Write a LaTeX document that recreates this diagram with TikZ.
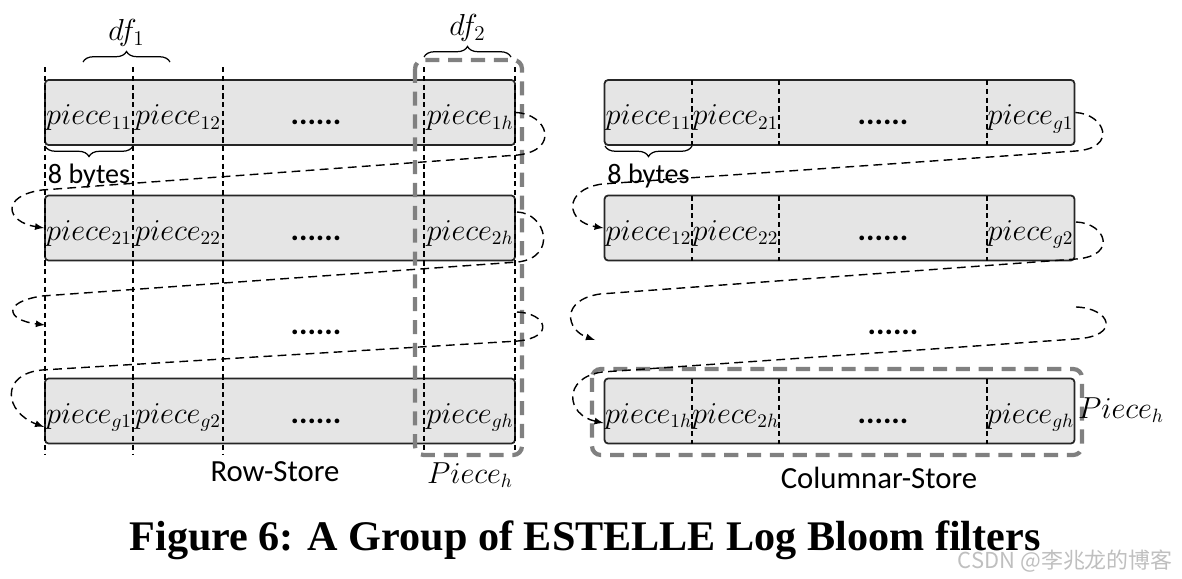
\documentclass[tikz,border=0pt]{standalone}
\usepackage{fontspec}
\setsansfont{Carlito}
\newfontfamily\capfont{Liberation Serif}
\newfontfamily\cjkfont{Noto Sans CJK SC}
\usetikzlibrary{calc}
\usetikzlibrary{arrows}
\usetikzlibrary{decorations.pathreplacing}

\tikzset{
  rowbox/.style={draw=black!85, line width=1pt, fill=black!10, rounded corners=2pt,
    minimum width=9.4cm, minimum height=1.3cm, inner sep=0pt},
  cellsep/.style={black, line width=0.6pt, dash pattern=on 3pt off 2pt},
  flow/.style={black, line width=0.8pt, dash pattern=on 5pt off 3pt, -latex},
  pieceframe/.style={draw=black!50, line width=2.4pt, dash pattern=on 8pt off 5pt, rounded corners=5pt},
  brc/.style={decorate, decoration={brace, amplitude=6pt}, line width=0.7pt},
  pc/.style={font=\fontsize{16}{18}\selectfont, inner sep=0pt, anchor=base},
  lbl/.style={font=\sffamily\fontsize{17.5}{20}\selectfont},
  bytes/.style={font=\sffamily\fontsize{16}{18}\selectfont, inner sep=0pt},
  dots/.style={font=\sffamily\bfseries\fontsize{18}{20}\selectfont, inner sep=0pt, anchor=base},
}

\begin{document}
\begin{tikzpicture}[x=0.02cm,y=-0.02cm]
\useasboundingbox (0,0) rectangle (1182,578);

% Row-Store
\node[rowbox] (r1) at (280,112.5) {};
\node[rowbox] (r2) at (280,228) {};
\node[rowbox] (r4) at (280,411) {};
\coordinate (r3in) at (45,325);
\coordinate (r3out) at (517,312);
\coordinate (r2out) at (517,212);
\coordinate (r4in) at ($(r4.west)+(0,16)$);
\foreach \xx in {45,133,223,424,515}
  \draw[cellsep] (\xx,67) -- (\xx,455);

\foreach \rr/\yy/\sa/\sb/\sc in {1/124.5/11/12/1h, 2/240/21/22/2h, 4/423/g1/g2/gh} {
  \node[pc] (rp\rr a) at (89,\yy) {$piece_{\sa}$};
  \node[pc] (rp\rr b) at (178,\yy) {$piece_{\sb}$};
  \node[dots] (rd\rr) at (316,\yy) {......};
  \node[pc] (rp\rr c) at (470,\yy) {$piece_{\sc}$};
}
\node[dots] (rd3) at (316,334) {......};

\draw[brc] (83,62) -- (170,62) node[midway, above=5pt, font=\fontsize{17}{19}\selectfont] (df1) {$df_1$};
\draw[brc] (424,57) -- (511,57) node[midway, above=5pt, font=\fontsize{17}{19}\selectfont] (df2) {$df_2$};
\draw[brc] (133,146) -- (45,146) node[midway, below=10pt, bytes] (rb) {8 bytes};

\draw[pieceframe] (415,60) rectangle (522,455);
\node[font=\fontsize{16}{18}\selectfont] (rph) at (470,475) {$Piece_h$};
\node[lbl] (rs) at (275,472) {Row-Store};

\draw[flow] (r1.east) .. controls (548,114) and (560,150) .. (518,155) -- (42,190)
  .. controls (0,196) and (6,222) .. (r2.west);
\draw[flow] (r2out) .. controls (546,213) and (558,257) .. (518,262) -- (42,296)
  .. controls (2,302) and (6,320) .. (r3in);
\draw[flow] (r3out) .. controls (546,313) and (556,337) .. (518,341) -- (42,370)
  .. controls (0,374) and (4,412) .. (r4in);

% Columnar-Store
\node[rowbox] (c1) at (839.5,112.5) {};
\node[rowbox] (c2) at (839.5,228) {};
\node[rowbox] (c4) at (839.5,411) {};
\coordinate (c2out) at (1076,222);
\coordinate (c3in) at (595,340);
\coordinate (c3out) at (1076,307);
\coordinate (c4in) at ($(c4.west)+(0,12)$);
\foreach \yy in {112.5,228,411}
  \foreach \xx in {692,779,987}
    \draw[cellsep] (\xx,\yy-32.5) -- (\xx,\yy+32.5);

\foreach \rr/\yy/\sa/\sb/\sc in {1/124.5/11/21/g1, 2/240/12/22/g2, 4/423/1h/2h/gh} {
  \node[pc] (cp\rr a) at (648.5,\yy) {$piece_{\sa}$};
  \node[pc] (cp\rr b) at (735.5,\yy) {$piece_{\sb}$};
  \node[dots] (cd\rr) at (883,\yy) {......};
  \node[pc] (cp\rr c) at (1030.5,\yy) {$piece_{\sc}$};
}
\node[dots] (cd3) at (893,334) {......};

\draw[brc] (692,146) -- (605,146) node[midway, below=10pt, bytes] (cb) {8 bytes};

\draw[pieceframe] (592,369) rectangle (1082,455);
\node[font=\fontsize{16}{18}\selectfont] (cph) at (1121,410) {$Piece_h$};
\node[lbl] (cs) at (879,478) {Columnar-Store};

\draw[flow] (c1.east) .. controls (1105,114) and (1118,148) .. (1076,151) -- (602,184)
  .. controls (562,190) and (566,222) .. (c2.west);
\draw[flow] (c2out) .. controls (1106,223) and (1118,256) .. (1076,259) -- (600,294)
  .. controls (560,300) and (566,330) .. (c3in);
\draw[flow] (c3out) .. controls (1110,308) and (1122,336) .. (1076,339) -- (602,372)
  .. controls (562,378) and (566,415) .. (c4in);

% caption
\node[font=\capfont\bfseries\fontsize{24}{28}\selectfont] (cap) at (585,540)
  {Figure 6: A Group of ESTELLE Log Bloom filters};
\node[anchor=east, text=black!25, font=\cjkfont\fontsize{12.5}{15}\selectfont] (wm) at (1179,561)
  {CSDN @李兆龙的博客};
\end{tikzpicture}
\end{document}
